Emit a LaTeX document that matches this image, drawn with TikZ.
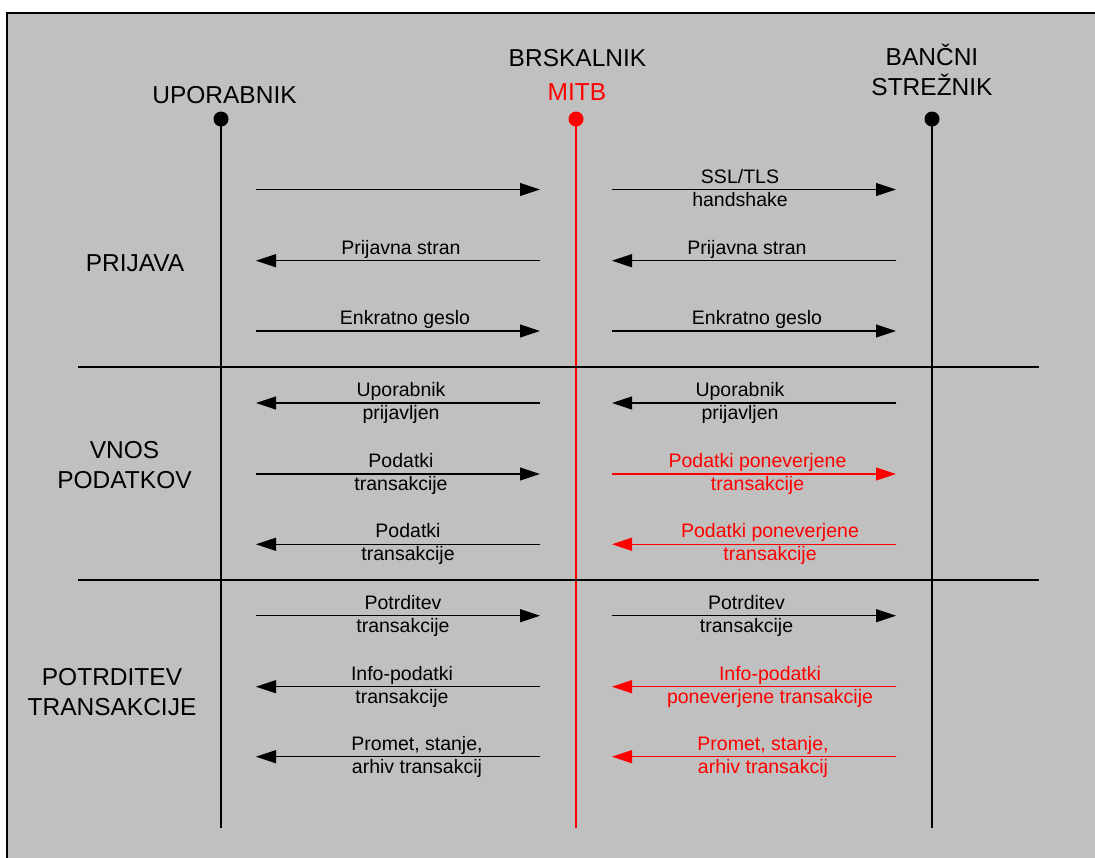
\documentclass[tikz,border=0pt]{standalone}
\usepackage{fontspec}
\setmainfont{Liberation Sans}
\usetikzlibrary{arrows.meta}
\definecolor{panel}{HTML}{C0C0C0}
\definecolor{mitb}{HTML}{FF0000}

% message with a two-line label straddling the arrow:
% name, y, tail x, head x, colour, label x, label text
\newcommand{\flowmsg}[7]{%
  \coordinate (#1-tail) at (#3,#2);
  \coordinate (#1-head) at (#4,#2);
  \draw[msgarrow, draw=#5] (#1-tail) -- (#1-head);
  \node[msglabel, text=#5] (#1-label) at (#6,#2+16.5) {#7};
}
% message with a one-line label above the arrow
\newcommand{\flowmsgone}[7]{%
  \coordinate (#1-tail) at (#3,#2);
  \coordinate (#1-head) at (#4,#2);
  \draw[msgarrow, draw=#5] (#1-tail) -- (#1-head);
  \node[msglabel, text=#5] (#1-label) at (#6,#2-6.5) {#7};
}

\begin{document}
\begin{tikzpicture}[x=1pt,y=-1pt,
  lifeline/.style={line width=1.3pt},
  separator/.style={line width=1.2pt},
  msgarrow/.style={line width=1.1pt,-{Triangle[length=20pt,width=13pt]}},
  msglabel/.style={font=\fontsize{19.5}{23}\selectfont, align=center, anchor=base, inner sep=0pt},
  heading/.style={font=\fontsize{24.5}{30}\selectfont, align=center, anchor=base, inner sep=0pt},
  dot/.style={circle, fill, inner sep=0pt, minimum size=15pt}]

\useasboundingbox (0,0) rectangle (1095,857);
\fill[panel] (7,13) rectangle (1120,880);
\draw[line width=1.6pt] (7,880) -- (7,13) -- (1120,13);

% actors
\node[heading] (hUser) at (224.5,103) {UPORABNIK};
\node[heading] (hBrowser) at (577.5,66.5) {BRSKALNIK};
\node[heading, text=mitb] (hMitb) at (577,100.5) {MITB};
\node[heading] (hBank) at (932,95) {BANČNI\\STREŽNIK};

% lifelines
\coordinate (userEnd) at (221,828);
\coordinate (mitbEnd) at (576,828);
\coordinate (bankEnd) at (932,828);
\node[dot] (user) at (221,119) {};
\node[dot, fill=mitb] (mitb) at (576,119) {};
\node[dot] (bank) at (932,119) {};
\draw[lifeline] (user.center) -- (userEnd);
\draw[lifeline, draw=mitb] (mitb.center) -- (mitbEnd);
\draw[lifeline] (bank.center) -- (bankEnd);

% phase separators
\coordinate (sepA-l) at (78,367);
\coordinate (sepA-r) at (1039,367);
\coordinate (sepB-l) at (78,580);
\coordinate (sepB-r) at (1039,580);
\draw[separator] (sepA-l) -- (sepA-r);
\draw[separator] (sepB-l) -- (sepB-r);

% phase names
\node[heading] (pLogin) at (135,271) {PRIJAVA};
\node[heading] (pInput) at (124.5,488) {VNOS\\PODATKOV};
\node[heading] (pConfirm) at (112,715) {POTRDITEV\\TRANSAKCIJE};

% login
\coordinate (m1-tail) at (256,189.5);
\coordinate (m1-head) at (540,189.5);
\draw[msgarrow] (m1-tail) -- (m1-head);
\flowmsg{m2}{189.5}{612}{896}{black}{740}{SSL/TLS\\handshake}
\flowmsgone{m3}{260.7}{540}{256}{black}{401}{Prijavna stran}
\flowmsgone{m4}{260.7}{896}{612}{black}{747}{Prijavna stran}
\flowmsgone{m5}{331}{256}{540}{black}{405}{Enkratno geslo}
\flowmsgone{m6}{331}{612}{896}{black}{757}{Enkratno geslo}

% data entry
\flowmsg{m7}{403}{540}{256}{black}{401}{Uporabnik\\prijavljen}
\flowmsg{m8}{403}{896}{612}{black}{740}{Uporabnik\\prijavljen}
\flowmsg{m9}{474}{256}{540}{black}{401}{Podatki\\transakcije}
\flowmsg{m10}{474}{612}{896}{mitb}{757.5}{Podatki poneverjene\\transakcije}
\flowmsg{m11}{544.3}{540}{256}{black}{408}{Podatki\\transakcije}
\flowmsg{m12}{544.3}{896}{612}{mitb}{770}{Podatki poneverjene\\transakcije}

% confirmation
\flowmsg{m13}{615.7}{256}{540}{black}{403}{Potrditev\\transakcije}
\flowmsg{m14}{615.7}{612}{896}{black}{746.5}{Potrditev\\transakcije}
\flowmsg{m15}{686.7}{540}{256}{black}{402}{Info-podatki\\transakcije}
\flowmsg{m16}{686.7}{896}{612}{mitb}{770}{Info-podatki\\poneverjene transakcije}
\flowmsg{m17}{756.7}{540}{256}{black}{417}{Promet, stanje,\\arhiv transakcij}
\flowmsg{m18}{756.7}{896}{612}{mitb}{763}{Promet, stanje,\\arhiv transakcij}

\end{tikzpicture}
\end{document}
